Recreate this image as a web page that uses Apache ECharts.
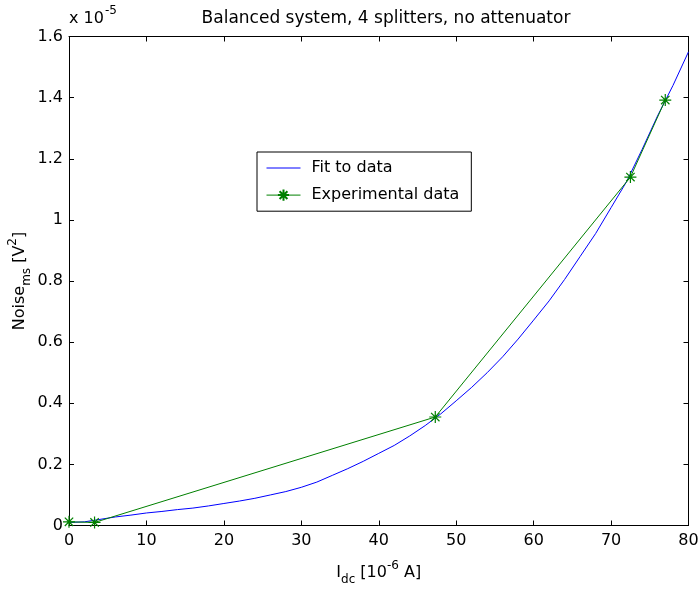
<!DOCTYPE html>
<html>
<head>
<meta charset="utf-8">
<script src="https://cdn.jsdelivr.net/npm/echarts@6/dist/echarts.min.js"></script>
<style>
html,body{margin:0;padding:0;background:#fff;}
#c{width:699px;height:590px;}
</style>
</head>
<body>
<div id="c"></div>
<script>
// Data (noise values in units of 1e-5 V^2, current in 1e-6 A)
const fitX = [0,2,4,6,8,10,12,14,16,18,20,22,24,26,28,30,32,34,36,38,40,42,44,46,48,50,52,54,56,58,60,62,64,66,68,70,72,74,76,78,80];
const fitY = [0.010,0.012,0.020,0.028,0.034,0.041,0.046,0.052,0.057,0.064,0.072,0.080,0.089,0.100,0.111,0.125,0.142,0.164,0.186,0.210,0.236,0.262,0.293,0.327,0.365,0.408,0.452,0.500,0.552,0.610,0.672,0.735,0.805,0.880,0.955,1.040,1.125,1.230,1.340,1.440,1.550];
const expX = [0,3.3,47.3,72.5,77.0];
const expY = [0.012,0.010,0.355,1.140,1.392];
const xTicks = {min:0,max:80,interval:10};
const yTicks = {min:0,max:1.6,interval:0.2};
const titleText = 'Balanced system, 4 splitters, no attenuator';
const seriesNames = ['Fit to data','Experimental data'];

const FONT = 'DejaVu Sans, sans-serif';
const chart = echarts.init(document.getElementById('c'));
const star = 'path://M0,-10L0,10M-10,0L10,0M-7,-7L7,7M-7,7L7,-7';

function axisBase(extra){
  return Object.assign({
    type:'value',
    axisLine:{show:true,onZero:false,lineStyle:{color:'#000',width:1}},
    axisTick:{show:true,inside:true,length:5,lineStyle:{color:'#000'}},
    splitLine:{show:false},
    axisLabel:{color:'#000',fontFamily:FONT,fontSize:16}
  },extra);
}
const richMain = {
  m:{fontFamily:FONT,fontSize:16,color:'#000',verticalAlign:'middle',lineHeight:26},
  sub:{fontFamily:FONT,fontSize:12,color:'#000',verticalAlign:'bottom',lineHeight:26,padding:[10,0,0,0]},
  sup:{fontFamily:FONT,fontSize:12,color:'#000',verticalAlign:'top',lineHeight:26,padding:[0,0,8,0]}
};

const option = {
  animation:false,
  backgroundColor:'#fff',
  title:{
    text:titleText,left:381,top:5,textAlign:'center',
    textStyle:{fontFamily:FONT,fontSize:17,fontWeight:'normal',color:'#000'}
  },
  grid:{left:69,right:10.5,top:36.5,bottom:64.5,containLabel:false,outerBoundsMode:'none'},
  legend:{
    left:257,top:152,orient:'vertical',
    data:[{name:seriesNames[0],itemStyle:{opacity:0}},{name:seriesNames[1]}],
    itemWidth:34,itemHeight:14,itemGap:11,
    padding:[8,12,8,9],
    lineStyle:{width:1},
    borderColor:'#000',borderWidth:1,backgroundColor:'#fff',
    textStyle:{fontFamily:FONT,fontSize:16,color:'#000',padding:[0,0,0,6]}
  },
  xAxis:[
    axisBase(Object.assign({position:'bottom',
      axisLabel:{color:'#000',fontFamily:FONT,fontSize:16,margin:7},
      name:'{m|I}{sub|dc}{m| [10}{sup|-6}{m| A]}',
      nameLocation:'middle',nameGap:34,nameMoveOverlap:false,
      nameTextStyle:{fontFamily:FONT,fontSize:16,color:'#000',rich:richMain}
    },xTicks)),
    axisBase(Object.assign({position:'top',axisLabel:{show:false}},xTicks))
  ],
  yAxis:[
    axisBase(Object.assign({position:'left',
      axisLabel:{color:'#000',fontFamily:FONT,fontSize:16,margin:6},
      name:'{m|Noise}{sub|ms}{m| [V}{sup|2}{m|]}',
      nameLocation:'middle',nameGap:36,nameRotate:90,nameMoveOverlap:false,
      nameTextStyle:{fontFamily:FONT,fontSize:16,color:'#000',rich:richMain}
    },yTicks)),
    axisBase(Object.assign({position:'right',axisLabel:{show:false}},yTicks))
  ],
  graphic:[{
    type:'text',left:69,top:5,
    style:{
      text:'{a|x 10}{b|-5}',
      rich:{
        a:{fontFamily:FONT,fontSize:16,fill:'#000',verticalAlign:'bottom',lineHeight:22},
        b:{fontFamily:FONT,fontSize:12,fill:'#000',verticalAlign:'top',lineHeight:22,padding:[0,0,8,1]}
      }
    }
  }],
  series:[
    {
      name:seriesNames[0],type:'line',
      data:fitX.map((x,i)=>[x,fitY[i]]),
      showSymbol:false,symbol:'none',
      lineStyle:{color:'#0000ff',width:1},
      itemStyle:{color:'#0000ff'},
      z:3
    },
    {
      name:seriesNames[1],type:'line',
      data:expX.map((x,i)=>[x,expY[i]]),
      symbol:star,symbolSize:12,showSymbol:true,
      lineStyle:{color:'#008000',width:1},
      itemStyle:{color:'none',borderColor:'#008000',borderWidth:1.2},
      z:4
    }
  ]
};
chart.setOption(option);
</script>
</body>
</html>
